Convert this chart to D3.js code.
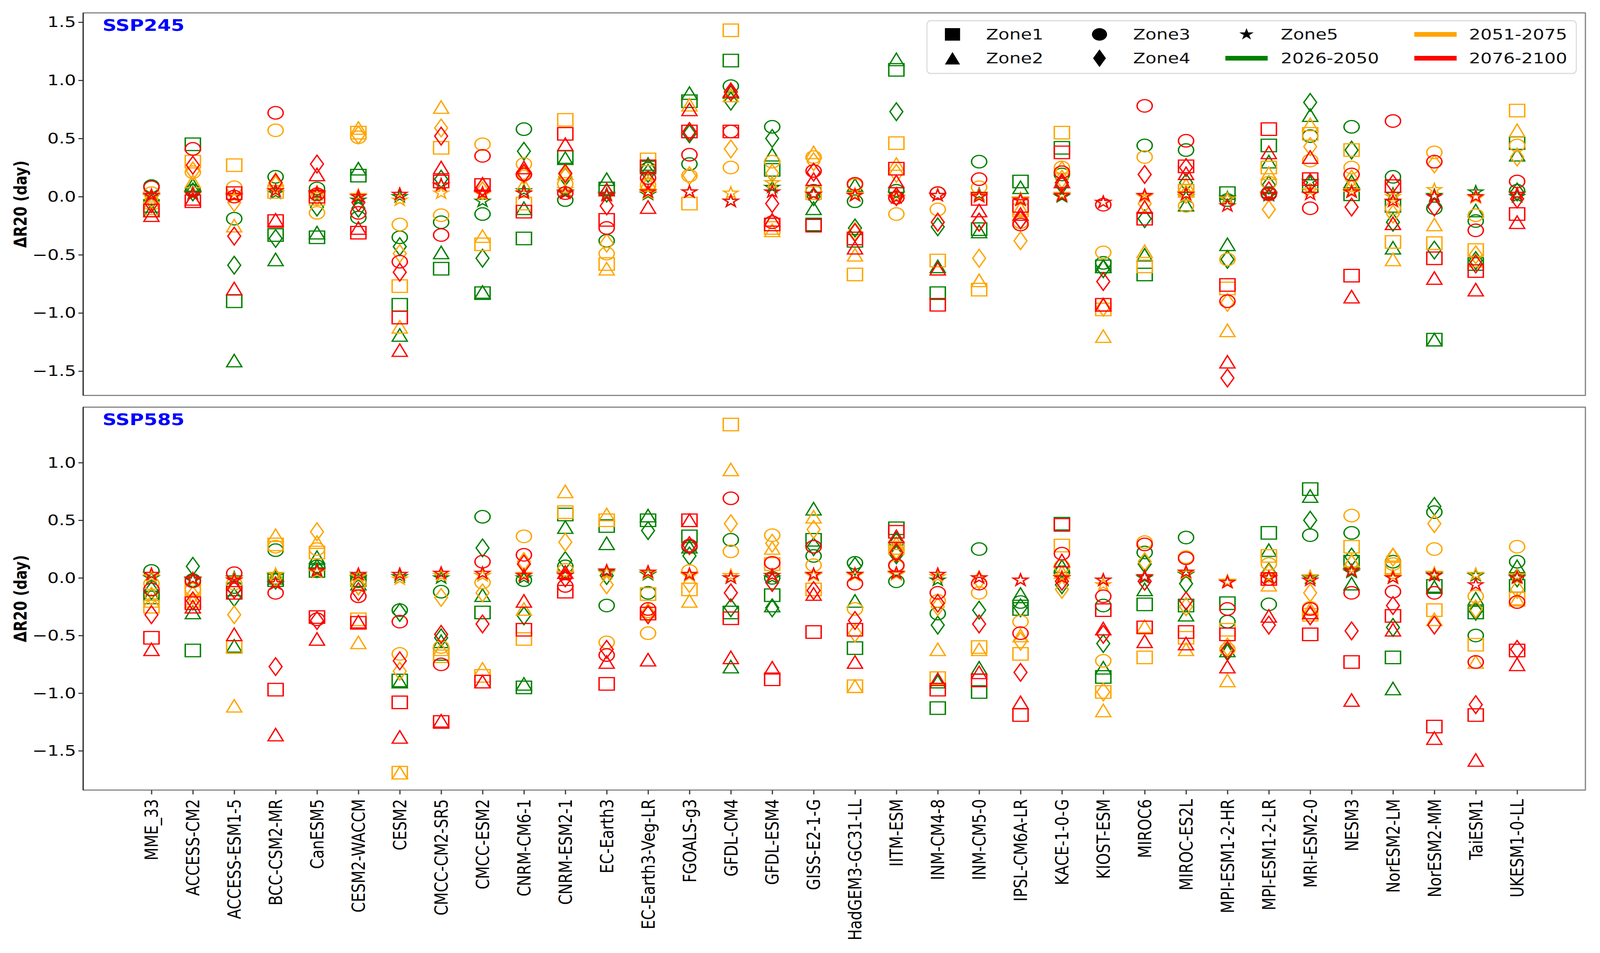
<!DOCTYPE html>
<html>
<head>
<meta charset="utf-8">
<script src="https://cdn.jsdelivr.net/npm/d3@7"></script>
<style>
  html, body { margin: 0; padding: 0; background: #fff; overflow: hidden; }
  svg { display: block; width: 100vw; height: 100vh; }
</style>
</head>
<body>
<div id="chart"></div>
<script>
/* --- categories --- */
const models = ["MME_33", "ACCESS-CM2", "ACCESS-ESM1-5", "BCC-CSM2-MR", "CanESM5", "CESM2-WACCM",
  "CESM2", "CMCC-CM2-SR5", "CMCC-ESM2", "CNRM-CM6-1", "CNRM-ESM2-1", "EC-Earth3",
  "EC-Earth3-Veg-LR", "FGOALS-g3", "GFDL-CM4", "GFDL-ESM4", "GISS-E2-1-G", "HadGEM3-GC31-LL",
  "IITM-ESM", "INM-CM4-8", "INM-CM5-0", "IPSL-CM6A-LR", "KACE-1-0-G", "KIOST-ESM", "MIROC6",
  "MIROC-ES2L", "MPI-ESM1-2-HR", "MPI-ESM1-2-LR", "MRI-ESM2-0", "NESM3", "NorESM2-LM",
  "NorESM2-MM", "TaiESM1", "UKESM1-0-LL"];
const zones = ["Zone1", "Zone2", "Zone3", "Zone4", "Zone5"];
const periods = ["2026-2050", "2051-2075", "2076-2100"];
const yTicks245 = [-1.5, -1.0, -0.5, 0.0, 0.5, 1.0, 1.5];
const yTicks585 = [-1.5, -1.0, -0.5, 0.0, 0.5, 1.0];

/* --- values: per model [2026-2050, 2051-2075, 2076-2100] --- */
const ssp245Zone1 = [[-0.08,-0.1,-0.12],[0.45,0.3,-0.04],[-0.9,0.27,0.03],[-0.33,0.04,-0.21],[-0.35,-0.02,0.0],
  [0.18,0.55,-0.31],[-0.93,-0.77,-1.04],[-0.62,0.42,0.13],[-0.83,-0.41,0.1],[-0.36,-0.06,-0.13],
  [0.34,0.66,0.54],[0.07,-0.58,-0.2],[0.25,0.32,0.26],[0.82,-0.06,0.56],[1.17,1.43,0.56],
  [0.23,-0.27,-0.24],[-0.24,0.03,-0.25],[-0.38,-0.67,-0.36],[1.09,0.46,0.24],[-0.83,-0.55,-0.93],
  [-0.28,-0.8,-0.02],[0.13,-0.12,-0.08],[0.42,0.55,0.38],[-0.6,-0.97,-0.93],[-0.67,-0.6,-0.19],
  [0.05,0.05,0.26],[0.03,-0.79,-0.76],[0.44,0.25,0.58],[0.09,0.54,0.15],[0.02,0.4,-0.68],
  [-0.08,-0.39,0.09],[-1.23,-0.4,-0.53],[-0.58,-0.46,-0.64],[0.46,0.74,-0.15]];
const ssp245Zone2 = [[-0.12,-0.05,-0.16],[0.1,0.13,-0.02],[-1.41,-0.25,-0.79],[-0.54,0.15,-0.2],[-0.31,0.04,0.19],
  [0.24,0.59,-0.27],[-1.19,-1.12,-1.32],[-0.48,0.77,0.25],[-0.82,-0.34,0.11],[-0.1,0.1,0.25],
  [0.33,0.2,0.45],[0.15,-0.62,0.06],[0.28,0.12,-0.09],[0.89,0.79,0.75],[0.9,0.87,0.91],
  [0.36,-0.29,-0.2],[-0.1,0.38,0.15],[0.1,-0.5,-0.44],[1.18,0.28,0.13],[-0.6,-0.62,-0.62],
  [-0.3,-0.72,-0.12],[0.08,-0.1,-0.15],[0.13,0.25,0.13],[-0.6,-1.2,-0.93],[-0.5,-0.47,-0.09],
  [-0.07,0.1,0.2],[-0.41,-1.15,-1.42],[0.3,0.2,0.38],[0.7,0.62,0.34],[0.13,0.1,-0.86],
  [-0.44,-0.54,-0.23],[-1.23,-0.24,-0.7],[-0.12,-0.55,-0.8],[0.36,0.57,-0.22]];
const ssp245Zone3 = [[0.09,0.03,0.08],[0.05,0.21,0.41],[-0.19,0.08,0.0],[0.17,0.57,0.72],[0.07,-0.14,0.02],
  [-0.18,0.51,-0.14],[-0.35,-0.24,-0.56],[-0.22,-0.16,-0.33],[-0.15,0.45,0.35],[0.58,0.28,0.19],
  [-0.03,0.11,0.03],[-0.38,-0.49,-0.27],[0.24,0.1,0.16],[0.28,0.18,0.36],[0.95,0.25,0.56],
  [0.6,0.3,-0.22],[0.05,0.34,0.22],[-0.04,0.1,0.11],[0.05,-0.15,-0.01],[0.03,-0.11,0.03],
  [0.3,0.08,0.15],[-0.22,-0.22,-0.24],[0.19,0.25,0.21],[-0.57,-0.48,-0.07],[0.44,0.34,0.78],
  [0.4,-0.08,0.48],[-0.03,-0.54,-0.9],[0.03,0.12,0.02],[0.52,0.31,-0.1],[0.6,0.25,0.19],
  [0.17,-0.1,0.65],[-0.1,0.38,0.3],[-0.21,-0.16,-0.29],[0.05,0.44,0.13]];
const ssp245Zone4 = [[-0.03,-0.02,-0.06],[0.04,0.22,0.27],[-0.59,-0.05,-0.34],[-0.36,0.1,0.12],[-0.09,0.0,0.28],
  [-0.1,0.53,-0.05],[-0.43,-0.49,-0.65],[0.15,0.59,0.52],[-0.53,0.05,0.08],[0.39,0.18,0.2],
  [0.17,0.19,0.2],[0.03,-0.4,-0.08],[0.2,0.13,0.14],[0.54,0.18,0.56],[0.82,0.41,0.9],
  [0.5,0.2,-0.06],[0.0,0.3,0.21],[-0.27,-0.3,-0.31],[0.73,0.2,0.0],[-0.26,-0.22,-0.22],
  [-0.22,-0.53,-0.22],[-0.2,-0.38,-0.2],[0.1,0.15,0.12],[-0.62,-0.95,-0.73],[-0.19,-0.06,0.19],
  [0.12,0.02,0.25],[-0.54,-0.91,-1.56],[0.1,-0.11,0.05],[0.81,0.43,0.12],[0.4,0.15,-0.09],
  [-0.22,-0.15,0.11],[-0.46,0.28,-0.09],[-0.55,-0.5,-0.58],[0.04,0.34,-0.02]];
const ssp245Zone5 = [[0.0,0.01,0.01],[0.03,0.02,0.02],[0.0,0.0,0.01],[0.03,0.05,0.05],[0.02,0.03,0.03],
  [-0.03,0.01,0.0],[0.0,-0.03,0.02],[0.1,0.03,0.1],[-0.04,0.02,0.03],[0.05,0.03,0.03],
  [0.04,0.06,0.03],[0.02,0.01,0.01],[0.02,0.03,0.04],[0.04,0.04,0.04],[-0.04,0.03,-0.04],
  [0.08,0.12,0.04],[0.02,0.02,0.02],[0.01,0.02,0.01],[0.02,0.0,-0.01],[0.01,0.01,0.01],
  [0.02,0.01,0.0],[-0.02,-0.02,-0.03],[0.0,0.02,0.01],[-0.05,-0.05,-0.05],[0.0,0.0,0.01],
  [0.0,0.02,0.02],[-0.01,-0.02,-0.08],[0.01,0.02,0.02],[0.13,0.05,0.02],[0.04,0.05,0.04],
  [0.02,0.0,-0.04],[0.01,0.06,0.0],[0.04,-0.01,0.0],[0.0,0.02,0.02]];

const ssp585Zone1 = [[-0.17,-0.25,-0.52],[-0.63,-0.1,-0.22],[-0.1,-0.6,-0.13],[-0.02,0.29,-0.97],[0.06,0.22,-0.34],
  [-0.02,-0.36,-0.39],[-0.89,-1.69,-1.08],[-0.66,-0.68,-1.25],[-0.3,-0.85,-0.9],[-0.95,-0.53,-0.45],
  [0.55,0.57,-0.12],[0.45,0.5,-0.92],[0.5,-0.14,-0.31],[0.36,-0.1,0.5],[-0.3,1.33,-0.35],
  [-0.15,0.12,-0.88],[0.33,-0.1,-0.47],[-0.61,-0.94,-0.45],[0.43,0.26,0.4],[-1.13,-0.87,-0.97],
  [-0.99,-0.6,-0.89],[-0.27,-0.66,-1.19],[0.47,0.28,0.46],[-0.86,-0.99,-0.28],[-0.23,-0.69,-0.43],
  [-0.24,-0.52,-0.47],[-0.22,-0.45,-0.49],[0.39,0.19,-0.01],[0.77,-0.32,-0.49],[0.14,0.27,-0.73],
  [-0.69,0.08,-0.33],[-0.07,-0.28,-1.29],[-0.3,-0.58,-1.19],[-0.07,-0.18,-0.63]];
const ssp585Zone2 = [[-0.14,-0.2,-0.62],[-0.3,-0.2,-0.25],[-0.59,-1.11,-0.49],[0.0,0.37,-1.36],[0.18,0.31,-0.53],
  [-0.05,-0.56,-0.38],[-0.9,-1.69,-1.38],[-0.55,-0.62,-1.24],[-0.15,-0.79,-0.9],[-0.92,-0.27,-0.2],
  [0.44,0.75,0.05],[0.3,0.55,-0.73],[0.54,-0.29,-0.71],[0.27,-0.2,0.5],[-0.77,0.94,-0.69],
  [-0.24,0.26,-0.78],[0.6,0.53,-0.14],[-0.2,-0.94,-0.73],[0.34,0.3,0.36],[-0.9,-0.62,-0.88],
  [-0.78,-0.62,-0.82],[-0.14,-0.5,-1.08],[0.1,0.05,0.15],[-0.78,-1.15,-0.44],[-0.1,-0.42,-0.55],
  [-0.32,-0.62,-0.57],[-0.63,-0.89,-0.77],[0.24,-0.06,-0.33],[0.71,-0.27,-0.3],[-0.05,0.15,-1.06],
  [-0.96,0.2,-0.45],[-0.08,-0.36,-1.39],[-0.18,-0.73,-1.58],[0.1,-0.19,-0.75]];
const ssp585Zone3 = [[0.06,-0.05,-0.1],[-0.02,-0.1,-0.03],[-0.08,-0.05,0.04],[0.24,0.27,-0.13],[0.1,0.25,-0.36],
  [-0.03,-0.05,-0.16],[-0.28,-0.66,-0.38],[-0.12,-0.6,-0.75],[0.53,-0.04,0.14],[-0.02,0.36,0.2],
  [0.1,0.07,-0.07],[-0.24,-0.56,-0.67],[-0.13,-0.48,-0.27],[0.27,0.06,0.28],[0.33,0.23,0.69],
  [0.0,0.37,0.13],[0.19,0.11,0.27],[0.13,-0.27,-0.05],[-0.03,0.1,0.11],[-0.31,-0.2,-0.13],
  [0.25,-0.13,-0.05],[-0.21,-0.38,-0.48],[0.05,0.1,0.21],[-0.24,-0.72,-0.16],[0.22,0.31,0.29],
  [0.35,0.18,0.17],[-0.38,-0.62,-0.27],[-0.23,0.12,-0.01],[0.37,-0.26,-0.27],[0.39,0.54,-0.13],
  [0.14,0.12,-0.12],[0.57,0.25,-0.13],[-0.5,-0.16,-0.73],[0.14,0.27,-0.21]];
const ssp585Zone4 = [[-0.11,-0.16,-0.32],[0.1,-0.15,-0.2],[-0.17,-0.32,-0.1],[-0.02,0.0,-0.77],[0.08,0.4,-0.37],
  [-0.07,-0.07,-0.12],[-0.3,-0.81,-0.72],[-0.52,-0.17,-0.49],[0.26,-0.13,-0.4],[-0.33,0.14,0.12],
  [0.15,0.31,0.0],[0.02,-0.06,-0.62],[0.41,-0.3,-0.32],[0.19,-0.05,0.28],[-0.26,0.47,-0.13],
  [-0.26,0.3,-0.04],[0.27,0.42,-0.11],[0.1,-0.48,-0.37],[0.2,0.24,0.22],[-0.41,-0.25,-0.22],
  [-0.28,-0.02,-0.4],[-0.26,-0.55,-0.82],[-0.06,-0.1,-0.03],[-0.57,-0.99,-0.49],[0.12,0.14,-0.03],
  [-0.05,-0.25,-0.2],[-0.64,-0.6,-0.63],[0.05,0.04,-0.41],[0.5,-0.13,-0.33],[0.18,0.12,-0.46],
  [-0.43,0.18,-0.24],[0.62,0.47,-0.41],[-0.29,-0.27,-1.1],[0.0,-0.1,-0.62]];
const ssp585Zone5 = [[0.0,0.01,0.03],[-0.02,-0.01,-0.01],[0.0,-0.01,-0.02],[0.02,0.03,-0.05],[0.07,0.05,0.06],
  [0.0,0.01,0.03],[0.01,-0.01,0.03],[0.0,0.02,0.04],[0.02,0.02,0.04],[0.0,0.03,0.02],
  [0.03,0.04,0.02],[0.05,0.04,0.06],[0.03,0.04,0.05],[0.02,0.02,0.03],[0.0,0.02,0.0],
  [0.0,0.02,0.02],[0.02,0.02,0.03],[0.03,0.02,0.03],[0.03,0.03,0.04],[-0.02,0.01,0.03],
  [0.0,0.0,0.0],[-0.02,-0.02,-0.02],[0.0,0.01,0.0],[-0.02,-0.06,-0.02],[0.0,0.01,0.01],
  [0.03,0.04,0.05],[-0.03,-0.03,-0.04],[0.0,0.01,0.0],[0.0,0.01,-0.02],[0.05,0.06,0.06],
  [0.0,0.02,0.0],[0.03,0.04,0.02],[0.02,0.03,-0.06],[0.01,0.02,0.0]];

/* --- layout & styles --- */
const W = 4386, H = 2439;
const plotLeft = 228, plotRight = 4346;
const stretch = 1.3;   // the source figure is widened horizontally
const panels = [
  { name: "SSP245", top: 33, bottom: 1012, zonesData: [ssp245Zone1, ssp245Zone2, ssp245Zone3, ssp245Zone4, ssp245Zone5], ticks: yTicks245 },
  { name: "SSP585", top: 1042, bottom: 2022, zonesData: [ssp585Zone1, ssp585Zone2, ssp585Zone3, ssp585Zone4, ssp585Zone5], ticks: yTicks585 }
];
const periodColor = ["#008000", "#ffa500", "#ff0000"];
const zoneShape = ["square", "triangle", "circle", "diamond", "star"];
const ms = 32;
const font = "DejaVu Sans, Liberation Sans, sans-serif";
const fs = 38;

/* matplotlib-like marker outlines, `size` = marker box */
function markerPath(shape, size) {
  const h = size / 2;
  if (shape === "square") return `M${-h},${-h}H${h}V${h}H${-h}Z`;
  if (shape === "triangle") return `M0,${-h}L${h},${h}L${-h},${h}Z`;
  if (shape === "diamond") {
    const d = h * Math.SQRT2;
    return `M0,${-d}L${0.6 * d},0L0,${d}L${-0.6 * d},0Z`;
  }
  if (shape === "circle") return `M${h},0A${h},${h} 0 1,1 ${-h},0A${h},${h} 0 1,1 ${h},0Z`;
  // star
  const pts = [];
  for (let k = 0; k < 10; k++) {
    const r = k % 2 === 0 ? h : h * 0.381966;
    const a = (Math.PI / 5) * k - Math.PI / 2;
    pts.push([r * Math.cos(a), r * Math.sin(a)]);
  }
  return "M" + pts.map((p) => p[0].toFixed(2) + "," + p[1].toFixed(2)).join("L") + "Z";
}

const svg = d3.select("#chart").append("svg")
  .attr("viewBox", `0 0 ${W} ${H}`)
  .attr("preserveAspectRatio", "none");

const x = d3.scaleLinear().domain([-1.65, models.length - 1 + 1.65]).range([plotLeft, plotRight]);

panels.forEach((p, pi) => {
  // y domain with 5% margins (matplotlib autoscale)
  const ext = d3.extent(p.zonesData.flat(2));
  const pad = (ext[1] - ext[0]) * 0.05;
  const y = d3.scaleLinear().domain([ext[0] - pad, ext[1] + pad]).range([p.bottom, p.top]);

  const g = svg.append("g").attr("class", "panel");

  // points
  periods.forEach((per, k) => {
    zones.forEach((z, zi) => {
      g.append("g").selectAll("path")
        .data(p.zonesData[zi])
        .enter().append("path")
        .attr("d", markerPath(zoneShape[zi], ms))
        .attr("transform", (d, i) => `translate(${x(i)},${y(d[k])}) scale(${stretch},1)`)
        .attr("fill", "none")
        .attr("stroke", periodColor[k])
        .attr("stroke-width", 3);
    });
  });

  // frame
  g.append("rect")
    .attr("x", plotLeft).attr("y", p.top)
    .attr("width", plotRight - plotLeft).attr("height", p.bottom - p.top)
    .attr("fill", "none").attr("stroke", "#6e6e6e").attr("stroke-width", 2.5);
  [plotLeft, plotRight].forEach((xx, j) => {
    g.append("line")
      .attr("x1", xx).attr("x2", xx).attr("y1", p.top).attr("y2", p.bottom)
      .attr("stroke", j === 0 ? "#2e2e2e" : "#8a8a8a").attr("stroke-width", 3.5);
  });

  // y axis
  const yAxis = d3.axisLeft(y).tickValues(p.ticks).tickSize(13).tickPadding(2)
    .tickFormat((d) => d3.format(".1f")(d).replace("-", "\u2212"));
  const ya = g.append("g").attr("transform", `translate(${plotLeft},0)`).call(yAxis);
  ya.select(".domain").remove();
  ya.selectAll(".tick line").attr("stroke", "#222").attr("stroke-width", 2.5);
  ya.selectAll(".tick text")
    .attr("transform", `scale(${stretch},1)`)
    .attr("font-family", font).attr("font-size", fs).attr("fill", "#000");

  // y label
  g.append("text")
    .attr("transform", `translate(56,${(p.top + p.bottom) / 2}) scale(${stretch},1) rotate(-90)`)
    .attr("text-anchor", "middle")
    .attr("dominant-baseline", "central")
    .attr("font-family", font).attr("font-weight", "bold").attr("font-size", 36)
    .text("ΔR20 (day)");

  // panel title
  g.append("text")
    .attr("transform", `translate(281,${p.top + 46}) scale(${stretch},1)`)
    .attr("font-family", font).attr("font-weight", "bold").attr("font-size", 41)
    .attr("fill", "#0000ff")
    .text(p.name);

  // x axis on the bottom panel
  if (pi === 1) {
    const xAxis = d3.axisBottom(x).tickValues(d3.range(models.length)).tickSize(11)
      .tickFormat((i) => models[i]);
    const xa = g.append("g").attr("transform", `translate(0,${p.bottom})`).call(xAxis);
    xa.select(".domain").remove();
    xa.selectAll(".tick line").attr("stroke", "#444").attr("stroke-width", 3.5);
    xa.selectAll(".tick text")
      .attr("transform", `scale(${stretch},1) rotate(-90)`)
      .attr("x", -23).attr("y", 0).attr("dy", "0.35em")
      .attr("text-anchor", "end")
      .attr("font-family", font).attr("font-size", fs).attr("fill", "#000");
  }
});

/* --- legend --- */
const legend = svg.append("g").attr("class", "legend");
legend.append("rect")
  .attr("x", 2541).attr("y", 53).attr("width", 1780).attr("height", 135)
  .attr("rx", 10).attr("fill", "#fff").attr("fill-opacity", 0.85)
  .attr("stroke", "#dcdcdc").attr("stroke-width", 3);

const legendItems = [
  { type: "marker", shape: "square", label: zones[0], cx: 2611, tx: 2703, row: 0 },
  { type: "marker", shape: "triangle", label: zones[1], cx: 2611, tx: 2703, row: 1 },
  { type: "marker", shape: "circle", label: zones[2], cx: 3014, tx: 3106, row: 0 },
  { type: "marker", shape: "diamond", label: zones[3], cx: 3014, tx: 3106, row: 1 },
  { type: "marker", shape: "star", label: zones[4], cx: 3417, tx: 3511, row: 0 },
  { type: "line", color: periodColor[0], label: periods[0], cx: 3417, tx: 3511, row: 1 },
  { type: "line", color: periodColor[1], label: periods[1], cx: 3935, tx: 4027, row: 0 },
  { type: "line", color: periodColor[2], label: periods[2], cx: 3935, tx: 4027, row: 1 }
];
const rowY = [88, 149];

legendItems.forEach((it) => {
  const cy = rowY[it.row];
  if (it.type === "marker") {
    legend.append("path")
      .attr("d", markerPath(it.shape, ms))
      .attr("transform", `translate(${it.cx},${cy}) scale(${stretch},1)`)
      .attr("fill", "#000");
  } else {
    legend.append("line")
      .attr("x1", it.cx - 58).attr("x2", it.cx + 58)
      .attr("y1", cy).attr("y2", cy)
      .attr("stroke", it.color).attr("stroke-width", 12);
  }
  legend.append("text")
    .attr("transform", `translate(${it.tx},${cy}) scale(${stretch},1)`)
    .attr("dominant-baseline", "central")
    .attr("font-family", font).attr("font-size", fs)
    .attr("fill", "#111")
    .text(it.label);
});
</script>
</body>
</html>
